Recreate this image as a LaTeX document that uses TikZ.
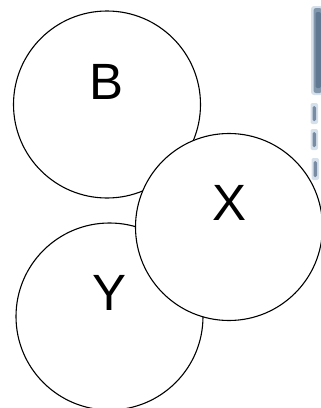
\documentclass[tikz,border=0pt]{standalone}
\usepackage{fontspec}
\setmainfont{Liberation Sans}
\usepackage{tikz}
\usepackage{xcolor}
\definecolor{smudge}{RGB}{96,120,146}
\definecolor{smudgelight}{RGB}{214,224,234}

\begin{document}
\begin{tikzpicture}[x=1pt, y=-1pt,
        bubble/.style={circle, draw, line width=1.1pt, fill=white, minimum size=187pt, inner sep=0pt},
        letter/.style={font=\fontsize{51}{60}\selectfont, inner sep=0pt}]
        \useasboundingbox (0,0) rectangle (321,408);

        % Mancha azul (borda direita)
        \fill[smudgelight, rounded corners=3pt] (311,6) rectangle (323,95);
        \fill[smudge!70!smudgelight, rounded corners=2.5pt] (313.5,8) rectangle (322,93);
        \fill[smudge, rounded corners=2pt] (315.5,12) rectangle (321,88);
        \fill[smudgelight, rounded corners=2pt] (310.5,103) rectangle (318,124);
        \fill[smudge!80!smudgelight, rounded corners=1.5pt] (312.5,106) rectangle (316,121);
        \fill[smudgelight, rounded corners=2pt] (310.5,129) rectangle (318,150);
        \fill[smudge!80!smudgelight, rounded corners=1.5pt] (312.5,132) rectangle (316,147);
        \fill[smudgelight, rounded corners=2pt] (311.5,158) rectangle (319,180);
        \fill[smudge!80!smudgelight, rounded corners=1.5pt] (313.5,161) rectangle (317,177);

        % Circulos
        \node[bubble] (b) at (107,104.5) {};
        \node[bubble] (y) at (109.5,316.5) {};
        \node[bubble] (x) at (229,227) {};

        % Letras
        \node[letter] (bl) at ([xshift=-0.5pt, yshift=23pt]b.center) {B};
        \node[letter] (xl) at ([xshift=1pt, yshift=24.5pt]x.center) {X};
        \node[letter] (yl) at ([xshift=0.5pt, yshift=24pt]y.center) {Y};
    \end{tikzpicture}
\end{document}
